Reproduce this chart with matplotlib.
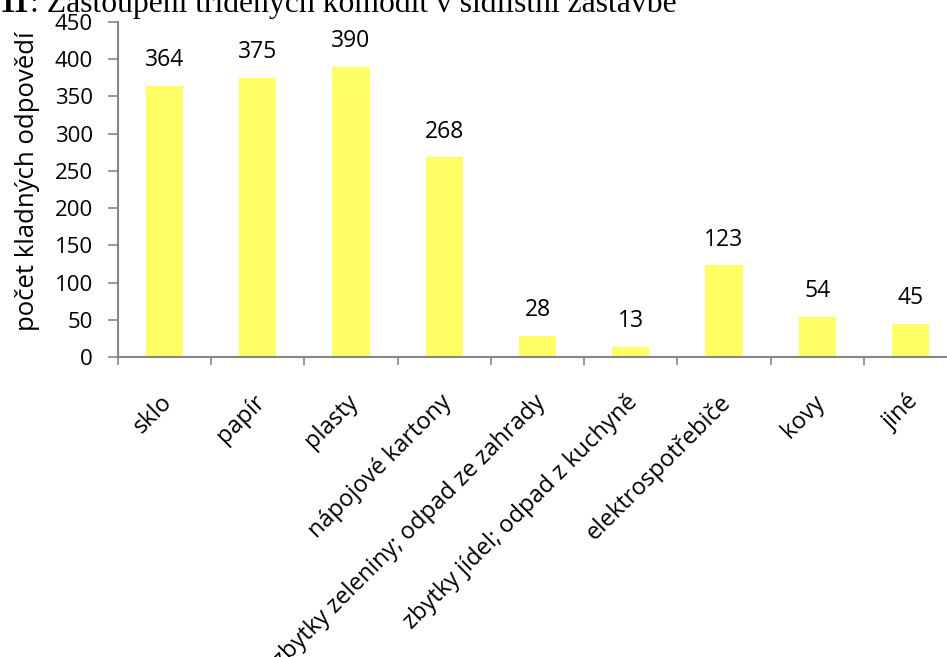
import matplotlib
matplotlib.use("Agg")
import matplotlib.pyplot as plt
import matplotlib.transforms as mtransforms
import numpy as np

categories = [
    "sklo",
    "papír",
    "plasty",
    "nápojové kartony",
    "zbytky zeleniny; odpad ze zahrady",
    "zbytky jídel; odpad z kuchyně",
    "elektrospotřebiče",
    "kovy",
    "jiné",
]
values = [364, 375, 390, 268, 28, 13, 123, 54, 45]
y_ticks = [0, 50, 100, 150, 200, 250, 300, 350, 400, 450]

FONT = "Open Sans"
BAR_COLOR = "#FFFF66"
AXIS_COLOR = "#868686"

fig = plt.figure(figsize=(9.47, 6.57), dpi=100)
# axes runs slightly past the right edge, as in the cropped original
ax = fig.add_axes([118 / 947, 300 / 657, 839 / 947, 335 / 657])

x = np.arange(len(categories))
ax.bar(x, values, width=0.4, color=BAR_COLOR, zorder=2)

for xi, v in zip(x, values):
    ax.annotate(str(v), (xi, v), xytext=(0, 10), textcoords="offset points",
                ha="center", va="bottom", fontsize=16.5, family=FONT)

ax.set_xlim(-0.5, len(categories) - 0.5)
ax.set_ylim(0, 450)
ax.set_yticks(y_ticks)
ax.tick_params(axis="y", direction="out", length=7, width=1.2, color=AXIS_COLOR,
               pad=11, labelsize=16)
for lab in ax.get_yticklabels():
    lab.set_family(FONT)

# category boundaries carry the tick marks, centres carry the labels
ax.set_xticks(np.arange(len(categories) + 1) - 0.5)
ax.set_xticklabels([])
ax.tick_params(axis="x", which="major", direction="out", length=6, width=1.2,
               color=AXIS_COLOR)
ax.set_xticks(x, minor=True)
ax.set_xticklabels(categories, minor=True, rotation=45, ha="right",
                   rotation_mode="anchor", fontsize=17, family=FONT)
ax.tick_params(axis="x", which="minor", length=0, pad=30)
shift = mtransforms.ScaledTranslation(4 / 100, 0, fig.dpi_scale_trans)
for lab in ax.get_xticklabels(minor=True):
    lab.set_verticalalignment("center")
    lab.set_transform(lab.get_transform() + shift)

for side in ["top", "right"]:
    ax.spines[side].set_visible(False)
for side in ["left", "bottom"]:
    ax.spines[side].set_color(AXIS_COLOR)
    ax.spines[side].set_linewidth(1.5)

fig.text(28 / 947, 1 - 181 / 657, "počet kladných odpovědí", rotation=90,
         ha="center", va="center", fontsize=18.5, family=FONT)

# title sits partly above the top edge in the original crop
title_y = 1 - 12 / 657
num = fig.text(0, title_y, "11", fontsize=22.8, family="Liberation Serif",
               weight="bold", ha="left", va="baseline")
renderer = fig.canvas.get_renderer()
num_w = num.get_window_extent(renderer).width / fig.bbox.width
fig.text(num_w, title_y, ": Zastoupení tříděných komodit v sídlištní zástavbě",
         fontsize=22.8, family="Liberation Serif", ha="left", va="baseline")

fig.savefig("out.png", dpi=100)
